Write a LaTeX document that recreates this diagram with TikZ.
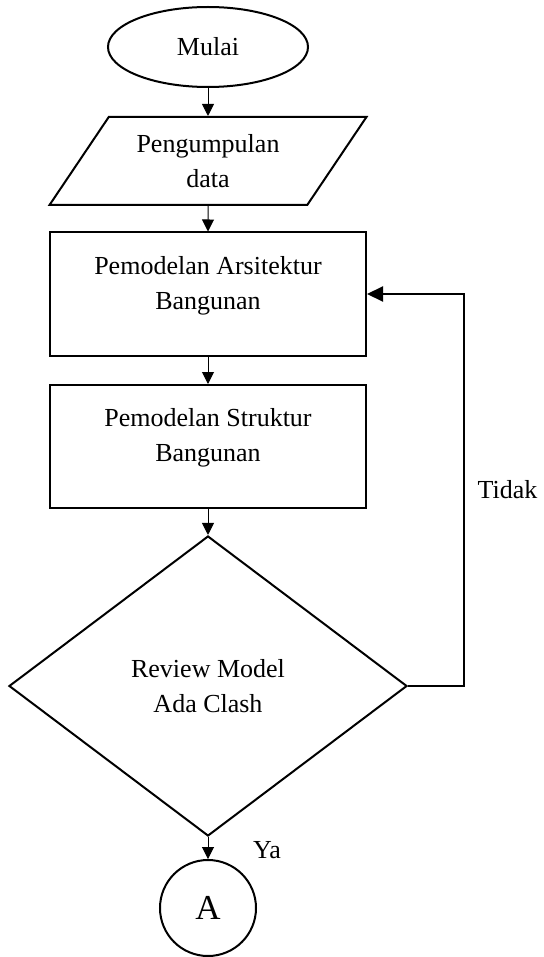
\documentclass[tikz,border=0pt]{standalone}
\usepackage{fontspec}
\setmainfont{Liberation Serif}
\usetikzlibrary{arrows.meta,shapes.geometric,positioning}

\begin{document}
\begin{tikzpicture}[node distance=60pt,>={Triangle[length=6pt,width=6pt]},
    font=\fontsize{13}{17.5}\selectfont]
  \tikzstyle{terminal}=[ellipse,draw,line width=1pt,minimum width=100pt,
        minimum height=40pt,inner sep=0pt]
  \tikzstyle{io}=[trapezium,trapezium left angle=55,trapezium right angle=125,
        trapezium stretches=true,draw,line width=1pt,minimum width=158.5pt,
        minimum height=44pt,align=center]
  \tikzstyle{process}=[rectangle,draw,line width=1pt,minimum width=158pt,
        minimum height=61.5pt,align=center,
        execute at end node={\rule[-11.5pt]{0pt}{11.5pt}}]
  \tikzstyle{decision}=[diamond,draw,line width=1pt,minimum width=199pt,
        minimum height=150pt,inner sep=0pt,align=center]
  \tikzstyle{connector}=[circle,draw,line width=1pt,minimum size=48pt,
        inner sep=0pt,font=\fontsize{17.5}{21}\selectfont]
  \tikzstyle{flow}=[->,line width=0.5pt]
  \useasboundingbox (-104pt,23.5pt) rectangle (167.5pt,-455pt);
    \node [terminal] (mulai) {Mulai};
    \node [io] (data) [below of=mulai, node distance=57pt] {Pengumpulan\\data};
    \node [process] (arsitektur) [below of=data, node distance=66.5pt] {Pemodelan Arsitektur\\Bangunan};
    \node [process] (struktur) [below of=arsitektur, node distance=76.25pt] {Pemodelan Struktur\\Bangunan};
    \node [decision] (review) [below of=struktur, node distance=119.75pt] {Review Model\\Ada Clash};
    \node [connector] (A) [below of=review, node distance=111pt] {A};
    \draw [flow] (mulai) -- (data);
    \draw [flow] (data) -- (arsitektur);
    \draw [flow] (arsitektur) -- (struktur);
    \draw [flow] (struktur) -- (review);
    \draw [flow] (review) -- node [pos=.6, right=19pt] (ya) {Ya} (A);
    \draw [->, line width=1pt, >={Triangle[length=8pt,width=7.5pt]}] (review.east) -- ++(28pt,0)
        |- node [pos=.25, right=3pt] (tidak) {Tidak} (arsitektur.east);
\end{tikzpicture}
\end{document}
